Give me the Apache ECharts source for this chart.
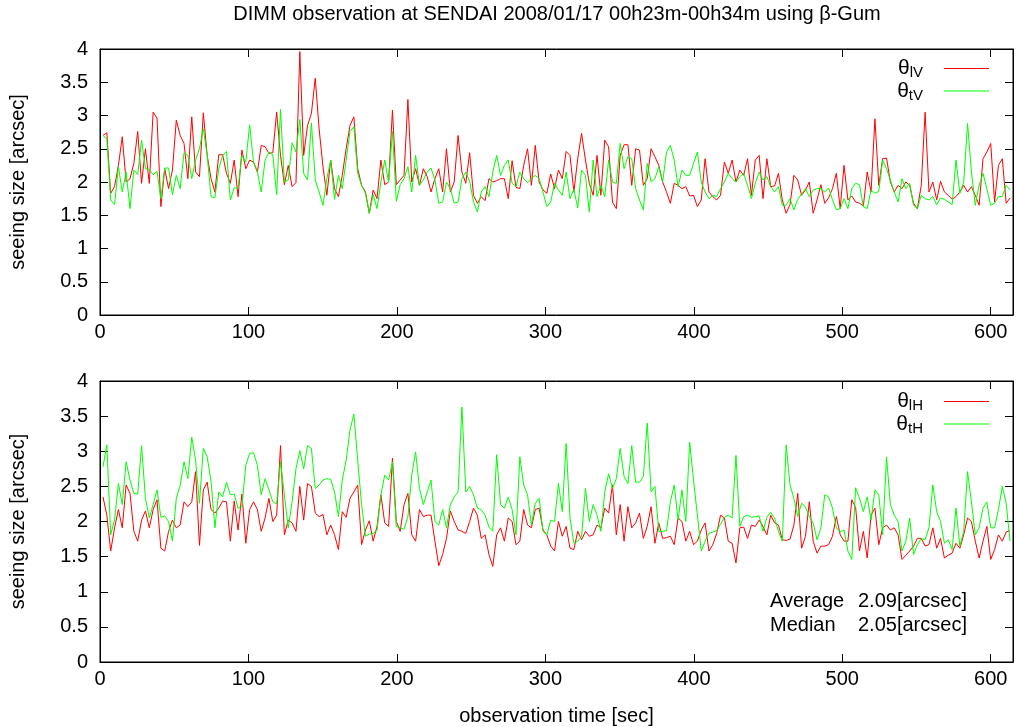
<!DOCTYPE html>
<html>
<head>
<meta charset="utf-8">
<script src="https://cdn.jsdelivr.net/npm/echarts@6/dist/echarts.min.js"></script>
<style>
  html, body { margin: 0; padding: 0; background: #fff; }
  #main { width: 1016px; height: 727px; }
</style>
</head>
<body>
<div id="main"></div>
<script>
// sampling: one measurement about every 2.6 s
const sampleStart = 2
const sampleStep = 2.6

// upper panel (V direction)
const thetaLV = [
  2.70, 2.74, 1.83, 1.93, 2.25, 2.68, 2.00, 2.05, 2.28, 2.76, 1.98, 2.50, 1.98, 3.05, 2.96, 1.63, 2.20, 1.90, 2.18, 2.93,
  2.70, 2.58, 2.05, 2.98, 2.15, 2.08, 3.04, 2.40, 2.05, 1.85, 2.41, 2.41, 2.13, 1.98, 2.33, 1.78, 2.48, 2.20, 2.33,
  2.30, 2.15, 2.55, 2.53, 2.43, 2.44, 3.05, 2.40, 1.96, 2.25, 1.93, 1.99, 3.96, 2.40, 2.85, 3.03, 3.56, 2.80, 2.23, 1.80,
  2.33, 1.90, 1.78, 2.10, 2.50, 2.85, 2.98, 2.20, 1.95, 1.85, 1.53, 1.88, 1.75, 2.33, 1.96, 2.00, 3.08, 1.96, 2.03,
  2.10, 3.24, 2.00, 2.20, 1.95, 2.20, 2.08, 1.85, 2.05, 2.20, 1.85, 2.50, 1.85, 2.00, 2.70, 2.15, 1.98, 2.44, 1.80, 1.68,
  1.78, 1.72, 2.05, 2.00, 2.02, 2.05, 2.05, 1.75, 2.32, 1.92, 1.90, 2.25, 2.50, 1.95, 2.55, 2.00, 1.88, 1.83, 2.12,
  1.90, 2.18, 2.05, 2.46, 2.40, 1.85, 2.35, 2.73, 2.33, 1.98, 1.80, 2.40, 1.80, 2.63, 2.53, 1.70, 1.60, 2.40, 2.56, 2.56,
  1.95, 2.50, 2.48, 1.95, 2.05, 2.50, 2.38, 2.25, 2.00, 1.85, 1.68, 1.98, 1.95, 1.90, 1.93, 1.79, 1.80, 1.63, 1.73,
  2.35, 1.85, 1.78, 1.73, 1.80, 2.30, 2.13, 2.33, 2.00, 2.18, 2.10, 2.35, 1.80, 2.33, 2.40, 1.75, 2.35, 1.93, 1.94, 2.13,
  1.73, 1.53, 1.66, 2.10, 2.03, 1.80, 1.88, 2.00, 1.53, 1.73, 1.96, 1.68, 1.76, 1.90, 2.13, 1.60, 2.25, 1.73, 1.79,
  1.70, 1.68, 1.64, 2.15, 1.85, 2.95, 1.95, 2.35, 2.36, 2.00, 1.85, 1.95, 1.90, 2.00, 1.95, 1.68, 1.60, 1.95, 3.05, 1.85,
  2.00, 1.73, 2.01, 1.85, 1.80, 1.74, 1.78, 1.85, 1.95, 1.85, 1.93, 1.80, 1.65, 2.35, 2.45, 2.58, 1.70, 2.25, 2.35, 1.68, 1.76
]
const thetaTV = [
  2.70, 2.65, 1.73, 1.66, 2.23, 1.85, 2.15, 1.60, 2.18, 2.11, 2.63, 2.20, 2.19, 2.11, 2.16, 1.75, 2.21, 2.21, 1.81, 2.10,
  1.90, 2.44, 2.40, 2.05, 2.33, 2.50, 2.80, 2.40, 1.78, 1.76, 2.20, 2.40, 2.46, 1.73, 1.91, 1.91, 2.40, 2.30, 2.86,
  2.30, 2.16, 1.85, 2.33, 2.45, 2.41, 1.81, 3.09, 2.00, 2.03, 2.59, 2.45, 2.94, 2.13, 2.03, 2.89, 2.03, 1.85, 1.65, 2.05,
  2.33, 1.74, 2.10, 1.90, 2.33, 2.76, 2.83, 2.13, 1.95, 1.83, 1.53, 1.81, 1.60, 2.00, 2.33, 2.00, 2.76, 1.71, 1.96,
  2.05, 2.23, 1.85, 2.40, 1.95, 2.03, 2.15, 2.21, 2.03, 1.68, 1.70, 2.00, 1.90, 1.68, 1.70, 2.05, 2.15, 2.01, 1.70, 1.55,
  1.85, 1.93, 1.78, 2.15, 2.40, 2.10, 2.25, 2.33, 1.98, 1.93, 2.15, 2.05, 1.99, 2.05, 2.10, 2.05, 1.85, 1.63, 1.70,
  1.98, 1.88, 1.80, 2.15, 1.75, 1.89, 1.61, 2.18, 2.10, 1.55, 2.33, 1.78, 1.95, 1.78, 2.33, 2.00, 1.98, 2.58, 2.20, 2.38,
  2.35, 1.90, 1.73, 1.58, 2.28, 2.00, 2.05, 2.23, 2.00, 2.45, 2.55, 2.33, 1.93, 2.18, 2.10, 2.10, 2.28, 2.45, 2.00,
  1.85, 1.75, 1.80, 1.78, 1.90, 2.00, 2.13, 2.05, 2.00, 2.08, 2.13, 1.95, 1.75, 1.98, 2.15, 2.03, 2.08, 1.93, 1.85, 1.93,
  1.65, 1.65, 1.75, 1.58, 1.74, 1.82, 1.90, 1.78, 1.88, 1.90, 1.90, 1.85, 1.91, 1.73, 1.58, 1.60, 1.75, 1.60, 1.90,
  1.98, 1.96, 1.63, 1.60, 1.88, 1.83, 1.86, 2.33, 2.20, 2.03, 1.85, 1.70, 2.05, 1.90, 1.98, 1.65, 1.60, 1.80, 1.75, 1.73,
  1.78, 1.66, 1.76, 1.74, 1.70, 1.66, 2.33, 1.83, 2.00, 2.88, 2.15, 1.65, 1.95, 2.13, 1.90, 1.65, 1.68, 1.78, 1.78, 1.95, 1.88
]

// lower panel (H direction)
const thetaLH = [
  2.35, 2.09, 1.58, 1.91, 2.17, 1.91, 2.52, 2.40, 1.86, 1.72, 2.02, 2.15, 1.91, 2.17, 2.31, 1.62, 1.58, 1.86, 2.02, 1.91,
  1.95, 2.28, 2.21, 2.28, 2.71, 1.66, 2.45, 2.56, 2.17, 2.12, 2.19, 2.29, 2.28, 1.72, 2.29, 1.88, 2.39, 1.69, 2.17,
  2.28, 2.17, 1.86, 2.05, 2.33, 2.00, 2.09, 3.08, 1.81, 2.02, 1.98, 1.86, 2.50, 2.02, 2.54, 2.50, 2.12, 2.07, 2.10, 1.81,
  1.95, 1.81, 1.60, 2.14, 2.06, 2.33, 2.42, 2.52, 1.67, 1.88, 2.01, 1.72, 1.93, 2.38, 1.98, 1.93, 2.90, 2.00, 1.86,
  2.24, 2.40, 1.81, 1.72, 2.17, 2.07, 2.09, 2.09, 1.72, 1.37, 1.53, 1.76, 2.15, 2.00, 1.88, 1.86, 1.83, 2.00, 2.19, 2.09,
  1.76, 1.81, 1.53, 1.36, 1.81, 1.91, 1.72, 2.05, 2.00, 1.67, 1.72, 2.17, 1.95, 1.91, 2.17, 2.19, 1.88, 1.81, 1.65,
  1.58, 2.00, 1.79, 1.93, 1.62, 1.60, 1.86, 1.74, 1.86, 1.79, 1.81, 1.95, 1.91, 2.19, 2.12, 2.52, 1.81, 2.24, 1.72, 2.21,
  1.91, 1.98, 2.12, 1.76, 1.93, 2.21, 1.69, 1.98, 1.76, 1.77, 1.79, 1.67, 2.05, 2.00, 1.72, 1.86, 1.67, 1.72, 1.88,
  1.98, 1.58, 1.67, 1.83, 2.09, 2.05, 1.72, 1.69, 1.41, 1.91, 1.92, 1.76, 1.95, 1.93, 2.02, 1.93, 1.81, 2.09, 1.98, 1.95,
  1.74, 1.73, 1.75, 1.95, 2.40, 1.62, 1.79, 2.28, 1.72, 1.55, 1.65, 1.65, 1.67, 1.79, 2.07, 1.81, 1.72, 1.72, 2.31,
  2.20, 1.58, 1.86, 1.48, 2.09, 2.19, 1.67, 1.91, 1.95, 1.88, 1.91, 1.81, 1.46, 1.52, 1.58, 1.65, 1.76, 1.76, 1.65, 1.67,
  1.91, 1.62, 1.76, 1.48, 1.52, 1.55, 1.69, 1.62, 1.81, 2.05, 2.00, 1.72, 1.48, 1.72, 1.93, 1.46, 1.60, 1.81, 1.72, 1.85, 1.87
]
const thetaTH = [
  2.78, 3.09, 1.81, 2.02, 2.54, 2.24, 2.85, 2.59, 2.40, 2.39, 3.08, 2.33, 2.05, 2.24, 2.45, 2.06, 2.08, 2.00, 1.72, 2.33,
  2.51, 2.85, 2.61, 3.20, 2.87, 2.26, 3.04, 2.92, 2.57, 1.91, 2.42, 2.35, 2.56, 2.38, 2.39, 2.19, 2.21, 2.80, 2.97,
  2.98, 2.80, 2.38, 2.61, 2.45, 2.28, 2.25, 2.85, 2.38, 1.91, 2.28, 2.75, 3.01, 2.75, 3.08, 3.04, 2.47, 2.52, 2.59, 2.61,
  2.60, 2.42, 2.07, 2.59, 2.87, 3.30, 3.53, 2.87, 2.24, 1.79, 1.82, 1.83, 1.87, 2.38, 2.66, 2.59, 2.85, 1.93, 1.91,
  1.89, 2.07, 2.66, 2.99, 2.47, 2.24, 2.42, 2.59, 2.00, 1.95, 2.17, 1.91, 2.24, 2.35, 2.42, 3.63, 2.42, 2.50, 2.38, 2.19,
  2.17, 2.09, 1.92, 1.86, 2.95, 2.24, 2.19, 2.35, 2.17, 1.81, 2.92, 2.52, 2.38, 1.95, 2.26, 2.33, 1.86, 1.81, 2.02,
  2.00, 2.54, 2.14, 3.11, 2.05, 1.69, 1.72, 1.79, 2.47, 2.00, 2.24, 2.09, 1.86, 2.42, 2.68, 2.47, 2.61, 3.04, 2.64, 2.54,
  3.08, 2.56, 2.56, 2.64, 3.40, 2.42, 2.50, 1.86, 1.86, 1.87, 2.28, 2.52, 2.02, 2.45, 2.00, 3.13, 2.59, 2.09, 1.58,
  1.72, 1.83, 1.85, 1.87, 1.96, 2.06, 2.09, 2.05, 2.94, 1.93, 2.07, 2.09, 2.06, 2.07, 2.08, 1.86, 2.06, 2.13, 2.05, 1.86,
  1.72, 3.09, 2.52, 2.33, 2.07, 2.26, 2.21, 2.07, 1.98, 1.74, 1.91, 2.38, 2.35, 2.19, 1.91, 1.85, 1.88, 1.58, 1.46,
  2.48, 2.33, 2.14, 2.35, 2.02, 2.45, 2.38, 1.81, 2.92, 2.24, 2.09, 2.00, 1.58, 1.72, 2.05, 1.53, 1.67, 1.76, 1.74, 1.91,
  2.52, 2.14, 2.00, 1.69, 1.74, 1.60, 2.19, 1.65, 1.86, 2.71, 2.28, 1.81, 1.91, 2.19, 2.28, 1.91, 1.91, 2.17, 2.50, 2.26, 1.72
]

const yTicks = ['0', '0.5', '1', '1.5', '2', '2.5', '3', '3.5', '4']
const xTicks = ['0', '100', '200', '300', '400', '500', '600']
const statLines = [['Average', '2.09[arcsec]'], ['Median', '2.05[arcsec]']]

const FONT = "'Liberation Sans', Arial, sans-serif"
const FS = 20

function toPairs(vals) {
  return vals.map(function(v, i) { return [sampleStart + i * sampleStep, v] })
}

function xAx(gridIndex, pos, showLabel, name) {
  return {
    type: 'value', gridIndex: gridIndex, position: pos,
    min: 0, max: 615, interval: 100,
    name: name || '', nameLocation: 'middle', nameGap: 44,
    nameTextStyle: { fontFamily: FONT, fontSize: FS, color: '#000' },
    axisLine: { show: true, onZero: false, lineStyle: { color: '#000', width: 1 } },
    axisTick: { show: true, inside: true, length: 8, lineStyle: { color: '#000' } },
    axisLabel: {
      show: showLabel, margin: 7, fontFamily: FONT, fontSize: FS, color: '#000',
      formatter: function(v) { return xTicks.indexOf(String(v)) >= 0 ? String(v) : '' }
    },
    splitLine: { show: false }
  }
}

function yAx(gridIndex, pos, showLabel) {
  return {
    type: 'value', gridIndex: gridIndex, position: pos,
    min: 0, max: 4, interval: 0.5,
    name: showLabel ? 'seeing size [arcsec]' : '', nameLocation: 'middle', nameGap: 72, nameRotate: 90,
    nameTextStyle: { fontFamily: FONT, fontSize: FS, color: '#000' },
    axisLine: { show: true, onZero: false, lineStyle: { color: '#000', width: 1 } },
    axisTick: { show: true, inside: true, length: 8, lineStyle: { color: '#000' } },
    axisLabel: {
      show: showLabel, margin: 12, fontFamily: FONT, fontSize: FS, color: '#000',
      formatter: function(v) { return yTicks[Math.round(v * 2)] }
    },
    splitLine: { show: false }
  }
}

function lineSeries(name, vals, color, xi, yi) {
  return {
    name: name, type: 'line', xAxisIndex: xi, yAxisIndex: yi,
    data: toPairs(vals), symbol: 'none', animation: false,
    lineStyle: { color: color, width: 1 }, itemStyle: { color: color }
  }
}

// gnuplot-like key: text on the left, short line sample on the right
function legendFor(names, top) {
  return {
    data: names, orient: 'vertical', right: 22, top: top, align: 'right',
    icon: 'rect', itemWidth: 45, itemHeight: 1, itemGap: 0,
    formatter: function(n) { return '{a|θ}{b|' + n.slice(1) + '}' },
    textStyle: {
      color: '#000',
      rich: {
        a: { fontFamily: FONT, fontSize: 21, color: '#000' },
        b: { fontFamily: FONT, fontSize: 15, color: '#000', padding: [9, 16, 0, 0] }
      }
    }
  }
}

const chart = echarts.init(document.getElementById('main'))

const graphics = [{
  type: 'text', x: 557, y: 4,
  style: {
    text: 'DIMM observation at SENDAI 2008/01/17 00h23m-00h34m using β-Gum',
    font: FS + 'px ' + FONT, fill: '#000', textAlign: 'center'
  }
}]
statLines.forEach(function(row, i) {
  graphics.push({ type: 'text', left: 770, top: 591 + i * 24,
    style: { text: row[0], font: FS + 'px ' + FONT, fill: '#000' } })
  graphics.push({ type: 'text', left: 858, top: 591 + i * 24,
    style: { text: row[1], font: FS + 'px ' + FONT, fill: '#000' } })
})

chart.setOption({
  backgroundColor: '#fff',
  animation: false,
  legend: [legendFor(['θlV', 'θtV'], 53), legendFor(['θlH', 'θtH'], 386)],
  grid: [
    { left: 100, top: 49, width: 914, height: 266, show: true, borderColor: '#000', borderWidth: 1 },
    { left: 100, top: 381, width: 914, height: 282, show: true, borderColor: '#000', borderWidth: 1 }
  ],
  xAxis: [
    xAx(0, 'bottom', true),
    xAx(0, 'top', false),
    xAx(1, 'bottom', true, 'observation time [sec]'),
    xAx(1, 'top', false)
  ],
  yAxis: [
    yAx(0, 'left', true),
    yAx(0, 'right', false),
    yAx(1, 'left', true),
    yAx(1, 'right', false)
  ],
  series: [
    lineSeries('θlV', thetaLV, '#ff0000', 0, 0),
    lineSeries('θtV', thetaTV, '#00ff00', 0, 0),
    lineSeries('θlH', thetaLH, '#ff0000', 2, 2),
    lineSeries('θtH', thetaTH, '#00ff00', 2, 2)
  ],
  graphic: graphics
})
</script>
</body>
</html>
